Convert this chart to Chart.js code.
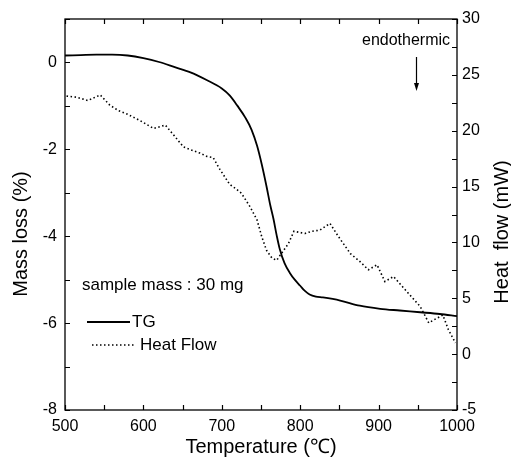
<!DOCTYPE html>
<html>
<head>
<meta charset="utf-8">
<script src="https://cdn.jsdelivr.net/npm/chart.js@4"></script>
<style>
  html, body { margin: 0; padding: 0; background: #fff; }
  #wrap { width: 511px; height: 464px; }
</style>
</head>
<body>
<div id="wrap"><canvas id="chart" width="511" height="464"></canvas></div>
<script>
// ─── DATA ──────────────────────────────────────────────────────────
const tgTemp = [500, 520, 540, 560, 580, 600, 620, 640, 660, 680, 700, 710, 720, 730, 738,
                745, 751, 757, 762, 766, 770, 774, 780, 787, 793, 800, 806, 812, 820, 829,
                851, 876, 902, 927, 953, 978, 1000];
const tgMass = [0.16, 0.17, 0.18, 0.18, 0.16, 0.10, 0.01, -0.11, -0.23, -0.40, -0.60, -0.76,
                -1.00, -1.27, -1.55, -1.92, -2.35, -2.85, -3.30, -3.61, -3.98, -4.30, -4.62,
                -4.85, -5.00, -5.14, -5.26, -5.34, -5.39, -5.41, -5.48, -5.60, -5.67, -5.71,
                -5.75, -5.79, -5.84];

const hfTemp = [502, 515, 529, 545, 557, 568, 579, 596, 613, 628, 640, 651, 660, 672, 681,
                689, 697, 710, 718, 725, 736, 745, 751, 757, 764, 770, 776, 785, 792, 806,
                815, 825, 838, 849, 864, 876, 887, 898, 908, 919, 936, 953, 964, 974, 982,
                989, 998];
const hfFlow = [23.1, 23.0, 22.7, 23.2, 22.3, 21.8, 21.5, 20.9, 20.2, 20.5, 19.5, 18.55, 18.3,
                18.0, 17.7, 17.6, 16.6, 15.2, 14.8, 14.4, 13.2, 12.0, 10.5, 9.3, 8.6, 8.4,
                9.0, 9.9, 11.0, 10.8, 11.0, 11.1, 11.7, 10.5, 9.0, 8.3, 7.55, 8.0, 6.5, 6.95,
                5.6, 4.27, 2.8, 3.2, 3.5, 2.2, 1.0];

const tempLabels = [500, 600, 700, 800, 900, 1000];
const massLabels = [0, -2, -4, -6, -8];
const flowLabels = [-5, 0, 5, 10, 15, 20, 25, 30];

const seriesNames = ['TG', 'Heat Flow'];
const sampleNote = 'sample mass : 30 mg';
const arrowNote = 'endothermic';
const axisTitles = { x: 'Temperature (\u2103)', y: 'Mass loss (%)', y2: 'Heat  flow (mW)' };

const FONT = 'Arial, "Liberation Sans", sans-serif';

function pts(xs, ys) { return xs.map((x, i) => ({ x: x, y: ys[i] })); }

// ─── FRAME, INWARD TICKS, TITLES, LEGEND ──────────────────────────
const framePlugin = {
  id: 'frame',
  afterDraw(chart) {
    const { ctx, chartArea: a, scales } = chart;
    ctx.save();
    ctx.strokeStyle = '#000';
    ctx.lineWidth = 1.3;
    ctx.strokeRect(a.left, a.top, a.right - a.left, a.bottom - a.top);

    ctx.lineWidth = 1.2;
    ctx.beginPath();
    scales.x.ticks.forEach(t => {
      const px = Math.round(scales.x.getPixelForValue(t.value)) + 0.5;
      ctx.moveTo(px, a.bottom); ctx.lineTo(px, a.bottom - 5);
      ctx.moveTo(px, a.top); ctx.lineTo(px, a.top + 5);
    });
    scales.y.ticks.forEach(t => {
      const py = Math.round(scales.y.getPixelForValue(t.value)) + 0.5;
      ctx.moveTo(a.left, py); ctx.lineTo(a.left + 5, py);
    });
    scales.y2.ticks.forEach(t => {
      const py = Math.round(scales.y2.getPixelForValue(t.value)) + 0.5;
      ctx.moveTo(a.right, py); ctx.lineTo(a.right - 5, py);
    });
    ctx.stroke();

    // axis titles
    ctx.fillStyle = '#000';
    ctx.font = '20px ' + FONT;
    ctx.textAlign = 'center';
    ctx.textBaseline = 'middle';
    ctx.fillText(axisTitles.x, 261, 447);
    ctx.save();
    ctx.translate(21, 234); ctx.rotate(-Math.PI / 2);
    ctx.fillText(axisTitles.y, 0, 0);
    ctx.restore();
    ctx.save();
    ctx.translate(502, 232); ctx.rotate(-Math.PI / 2);
    ctx.fillText(axisTitles.y2, 0, 0);
    ctx.restore();

    // legend
    ctx.font = '17px ' + FONT;
    ctx.textAlign = 'left';
    ctx.fillText(sampleNote, 82, 285);
    const ds = chart.data.datasets;
    ctx.lineWidth = ds[0].borderWidth;
    ctx.setLineDash([]);
    ctx.beginPath(); ctx.moveTo(87, 322); ctx.lineTo(130, 322); ctx.stroke();
    ctx.fillText(seriesNames[0], 132, 322);
    ctx.lineWidth = ds[1].borderWidth;
    ctx.setLineDash(ds[1].borderDash);
    ctx.beginPath(); ctx.moveTo(92, 345); ctx.lineTo(136, 345); ctx.stroke();
    ctx.setLineDash([]);
    ctx.fillText(seriesNames[1], 140, 345);

    // endothermic arrow
    ctx.font = '16px ' + FONT;
    ctx.textAlign = 'center';
    ctx.fillText(arrowNote, 406, 41);
    ctx.lineWidth = 1.2;
    ctx.beginPath(); ctx.moveTo(416.5, 57); ctx.lineTo(416.5, 86); ctx.stroke();
    ctx.beginPath();
    ctx.moveTo(416.5, 91); ctx.lineTo(414, 83); ctx.lineTo(419, 83); ctx.closePath();
    ctx.fill();
    ctx.restore();
  }
};

// ─── CHART ─────────────────────────────────────────────────────────
new Chart(document.getElementById('chart'), {
  type: 'line',
  data: {
    datasets: [
      {
        label: seriesNames[0], data: pts(tgTemp, tgMass), yAxisID: 'y',
        borderColor: '#000', borderWidth: 1.8, pointRadius: 0,
        cubicInterpolationMode: 'monotone'
      },
      {
        label: seriesNames[1], data: pts(hfTemp, hfFlow), yAxisID: 'y2',
        borderColor: '#000', borderWidth: 1.6, borderDash: [1.5, 2.5], pointRadius: 0,
        tension: 0
      }
    ]
  },
  options: {
    responsive: false, animation: false,
    layout: { padding: { top: 19, left: 0, right: 0, bottom: 0 } },
    plugins: { legend: { display: false }, tooltip: { enabled: false } },
    scales: {
      x: {
        type: 'linear', min: 500, max: 1000,
        grid: { display: false, drawTicks: false }, border: { display: false },
        ticks: {
          stepSize: 50, padding: 7, color: '#000', font: { family: FONT, size: 16 },
          maxRotation: 0, autoSkip: false,
          callback: v => tempLabels.includes(v) ? String(v) : ''
        },
        afterFit: s => { s.height = 54; }
      },
      y: {
        position: 'left', min: -8, max: 1,
        grid: { display: false, drawTicks: false }, border: { display: false },
        ticks: {
          stepSize: 1, padding: 8, color: '#000', font: { family: FONT, size: 16 },
          autoSkip: false,
          callback: v => massLabels.includes(v) ? String(v) : ''
        },
        afterFit: s => { s.width = 65; }
      },
      y2: {
        position: 'right', min: -5, max: 30,
        grid: { display: false, drawTicks: false }, border: { display: false },
        ticks: {
          stepSize: 2.5, padding: 5, color: '#000', font: { family: FONT, size: 16 },
          autoSkip: false,
          callback: v => flowLabels.includes(v) ? String(v) : ''
        },
        afterFit: s => { s.width = 54; }
      }
    }
  },
  plugins: [framePlugin]
});
</script>
</body>
</html>
